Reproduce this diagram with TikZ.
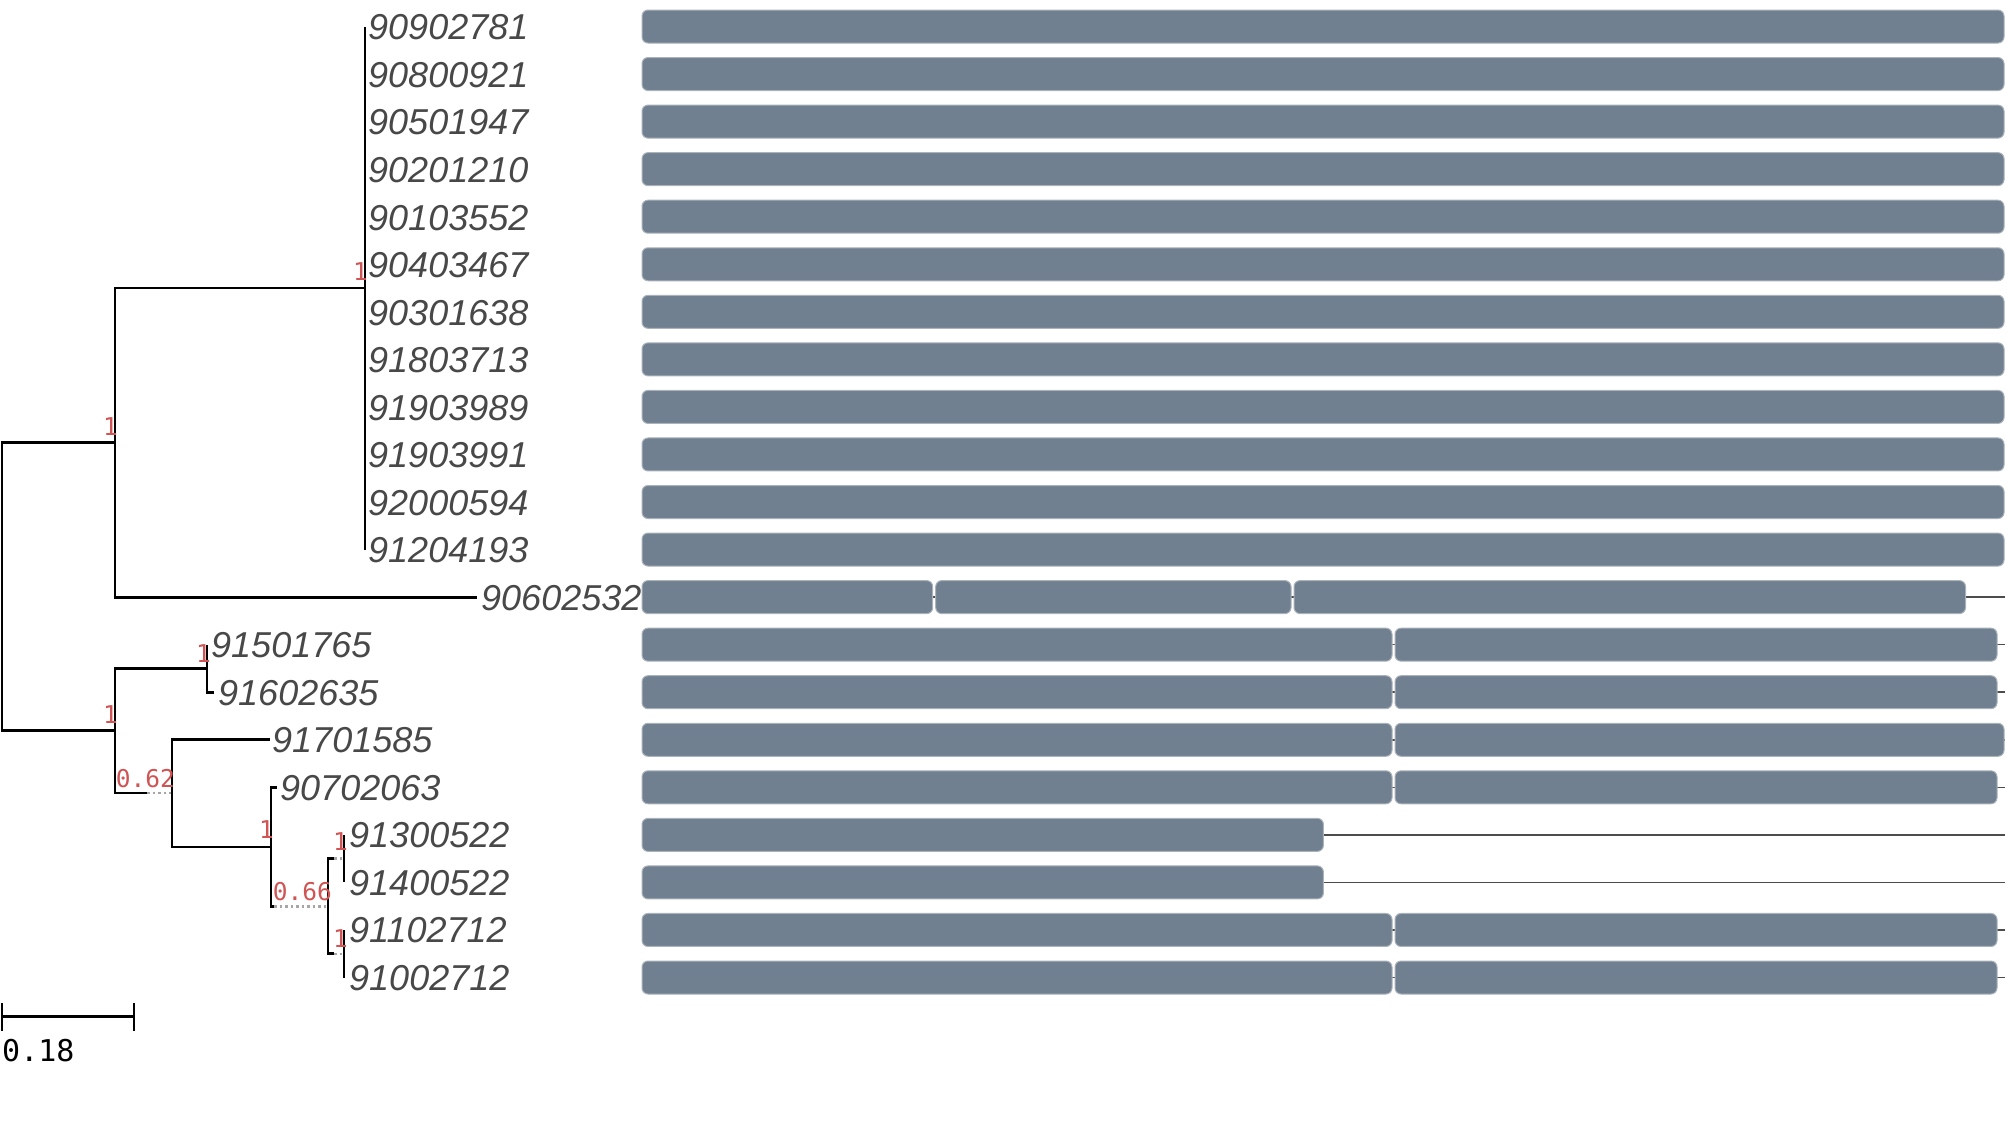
\documentclass[tikz,border=0pt]{standalone}
\usepackage{fontspec}
\setmainfont{Liberation Sans}
\newfontfamily\monofont{DejaVu Sans Mono}
\definecolor{slate}{RGB}{112,128,144}
\definecolor{slateedge}{RGB}{170,178,186}
\definecolor{leafgray}{RGB}{72,72,72}
\definecolor{supred}{RGB}{208,84,84}
\begin{document}
\begin{tikzpicture}[x=1pt,y=-1pt,
  br/.style={line width=2.9pt, black},
  dotbr/.style={line width=2.4pt, gray!70, dash pattern=on 2.5pt off 3pt},
  leaf/.style={anchor=west, inner sep=0pt, font=\fontsize{36}{40}\selectfont\itshape, text=leafgray},
  supp/.style={anchor=base east, inner sep=0pt, font=\monofont\fontsize{24.5}{27}\selectfont, text=supred},
  bar/.style={fill=slate, draw=slateedge, line width=1pt, rounded corners=6pt},
  tail/.style={line width=1.5pt, black!70},
  link/.style={line width=1.5pt, black}]
\useasboundingbox (0,0) rectangle (2007,1136);
\fill[white] (0,0) rectangle (2007,1136);

% ---------- leaf labels ----------
\foreach \i/\t in {0/90902781,1/90800921,2/90501947,3/90201210,4/90103552,5/90403467,
                   6/90301638,7/91803713,8/91903989,9/91903991,10/92000594,11/91204193}{
  \pgfmathsetmacro\yy{26.5+47.55*\i}
  \node[leaf] (L\i) at (368,\yy+1) {\t};
  \coordinate (t\i) at (365,\yy);
}
\node[leaf] (L12) at (481,598) {90602532};
\node[leaf] (L13) at (211,645.5) {91501765};
\node[leaf] (L14) at (218,693) {91602635};
\node[leaf] (L15) at (272,740.5) {91701585};
\node[leaf] (L16) at (280,788) {90702063};
\node[leaf] (L17) at (349,835.5) {91300522};
\node[leaf] (L18) at (349,883) {91400522};
\node[leaf] (L19) at (349,930.5) {91102712};
\node[leaf] (L20) at (349,978) {91002712};

% ---------- tree coordinates ----------
\coordinate (R) at (2,586.5);
\coordinate (A) at (115,442.5);
\coordinate (A1) at (365,288);
\coordinate (t12) at (477,597.1);
\coordinate (B) at (115,730.5);
\coordinate (B1) at (207,668.4);
\coordinate (t13) at (207,644.65);
\coordinate (t14) at (214,692.2);
\coordinate (B2s) at (147,793);
\coordinate (B2) at (172,793);
\coordinate (t15) at (270,739.75);
\coordinate (B3) at (271,847);
\coordinate (t16) at (277,787.3);
\coordinate (B4s) at (274,906.5);
\coordinate (B4) at (328,906.5);
\coordinate (B5s) at (334,858.6);
\coordinate (B5) at (344,858.6);
\coordinate (t17) at (344,834.85);
\coordinate (t18) at (344,882.4);
\coordinate (B6s) at (334,953.7);
\coordinate (B6) at (344,953.7);
\coordinate (t19) at (344,929.95);
\coordinate (t20) at (344,977.5);

% ---------- branches ----------
\draw[br] (R) |- (A);
\draw[br] (R) |- (B);
\draw[br] (A) |- (A1);
\draw[br] (A) |- (t12);
\foreach \i in {0,...,11}{ \draw[br] (A1) |- (t\i); }
\draw[br] (B) |- (B1);
\draw[br] (B1) |- (t13);
\draw[br] (B1) |- (t14);
\draw[br] (B) |- (B2s);
\draw[dotbr] (B2s) -- (B2);
\draw[br] (B2) |- (t15);
\draw[br] (B2) |- (B3);
\draw[br] (B3) |- (t16);
\draw[br] (B3) |- (B4s);
\draw[dotbr] (B4s) -- (B4);
\draw[br] (B4) |- (B5s);
\draw[dotbr] (B5s) -- (B5);
\draw[br] (B4) |- (B6s);
\draw[dotbr] (B6s) -- (B6);
\draw[br] (B5) |- (t17);
\draw[br] (B5) |- (t18);
\draw[br] (B6) |- (t19);
\draw[br] (B6) |- (t20);

% ---------- support values ----------
\node[supp] (sA1) at (368,280) {1};
\node[supp] (sA) at (118,435) {1};
\node[supp] (sB1) at (211,662) {1};
\node[supp] (sB) at (118,723) {1};
\node[supp] (sB2) at (175,787) {0.62};
\node[supp] (sB3) at (274,838) {1};
\node[supp] (sB4) at (332,900) {0.66};
\node[supp] (sB5) at (348,850) {1};
\node[supp] (sB6) at (348,947) {1};

% ---------- scale bar ----------
\coordinate (sb1) at (2,1016.7);
\coordinate (sb2) at (134,1016.7);
\draw[line width=2.7pt] (sb1) -- (sb2);
\draw[line width=2.7pt] ([yshift=13.7pt]sb1) -- ([yshift=-14.3pt]sb1);
\draw[line width=2.7pt] ([yshift=13.7pt]sb2) -- ([yshift=-14.3pt]sb2);
\node[anchor=base west, inner sep=0pt, font=\monofont\fontsize{30}{34}\selectfont] (sbl) at (2,1061) {0.18};

% ---------- domain bars ----------
\foreach \i in {0,...,11}{
  \pgfmathsetmacro\yy{26.5+47.55*\i}
  \draw[bar] (642,\yy-16.5) rectangle (2004,\yy+16.5);
}
% tails / backbone lines
\foreach \i in {12,...,20}{
  \pgfmathsetmacro\yy{26.5+47.55*\i}
  \draw[tail] (700,\yy) -- (2005,\yy);
}
% row 12
\draw[bar] (642,580.6) rectangle (932.7,613.6);
\draw[bar] (935.7,580.6) rectangle (1291,613.6);
\draw[bar] (1294,580.6) rectangle (1965.5,613.6);
% two-domain rows
\foreach \i/\e in {13/1997,14/1997,15/2004,16/1997,19/1997,20/1997}{
  \pgfmathsetmacro\yy{26.5+47.55*\i}
  \draw[bar] (642,\yy-16.5) rectangle (1392,\yy+16.5);
  \draw[bar] (1395,\yy-16.5) rectangle (\e,\yy+16.5);
}
% one-domain rows
\foreach \i in {17,18}{
  \pgfmathsetmacro\yy{26.5+47.55*\i}
  \draw[bar] (642,\yy-16.5) rectangle (1323.4,\yy+16.5);
}
\end{tikzpicture}
\end{document}
